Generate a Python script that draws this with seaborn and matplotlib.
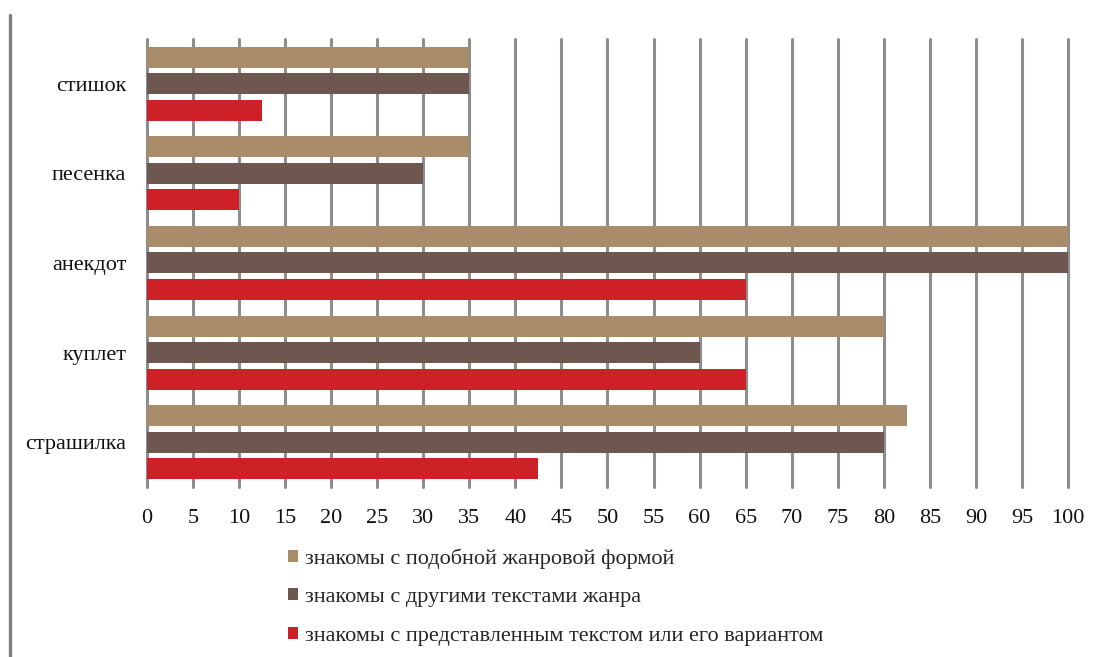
import matplotlib
matplotlib.use("Agg")
import matplotlib.pyplot as plt
from matplotlib.patches import Patch
from matplotlib.lines import Line2D
import seaborn as sns
import pandas as pd

# Genres on the vertical axis
genres = ["стишок", "песенка", "анекдот", "куплет", "страшилка"]

# Series (share of respondents, %)
series_names = [
    "знакомы с подобной жанровой формой",
    "знакомы с другими текстами жанра",
    "знакомы с представленным текстом или его вариантом",
]
similar_form = [35, 35, 100, 80, 82.5]
other_texts = [35, 30, 100, 60, 80]
presented_text = [12.5, 10, 65, 65, 42.5]

colors = ["#A98C6A", "#6E574E", "#CE2027"]
x_ticks = list(range(0, 101, 5))

rows = []
for name, vals in zip(series_names, [similar_form, other_texts, presented_text]):
    for g, v in zip(genres, vals):
        rows.append({"genre": g, "series": name, "value": v})
df = pd.DataFrame(rows)

sns.set_theme(style="white")
plt.rcParams["font.family"] = ["Liberation Serif", "DejaVu Serif"]

fig = plt.figure(figsize=(11, 6.57), dpi=100)
ax = fig.add_axes([0.1336, 0.2588, 0.8373, 0.6818])

sns.barplot(
    data=df, x="value", y="genre", hue="series", orient="h",
    order=genres, hue_order=series_names, palette=colors,
    width=0.89, gap=0.21, linewidth=0, saturation=1,
    errorbar=None, legend=False, ax=ax,
)

ax.set_xlim(0, 100)
ax.set_xticks(x_ticks)
ax.set_xticklabels([str(t) for t in x_ticks], fontsize=16, color="#111111")
ax.set_yticks(range(len(genres)))
ax.set_yticklabels(genres, fontsize=16, color="#111111")
ax.tick_params(axis="x", length=0, pad=16)
ax.tick_params(axis="y", length=0, pad=15)
ax.set_xlabel("")
ax.set_ylabel("")
for s in ax.spines.values():
    s.set_visible(False)
ax.set_axisbelow(True)
ax.xaxis.grid(True, color="#8B8D90", linewidth=2.2)
for gl in ax.get_xgridlines():
    gl.set_clip_on(False)

handles = [Patch(facecolor=c, edgecolor="none") for c in colors]
fig.legend(
    handles, series_names, loc="upper left",
    bbox_to_anchor=(0.244, 0.196), frameon=False,
    fontsize=16, handlelength=0.45, handleheight=0.45,
    handletextpad=0.3, labelspacing=0.88,
)

# Vertical rule along the left edge
fig.add_artist(Line2D([0.0095, 0.0095], [0.0, 0.977], transform=fig.transFigure,
                      color="#808080", linewidth=2.4))

fig.savefig("out.png", dpi=100)
